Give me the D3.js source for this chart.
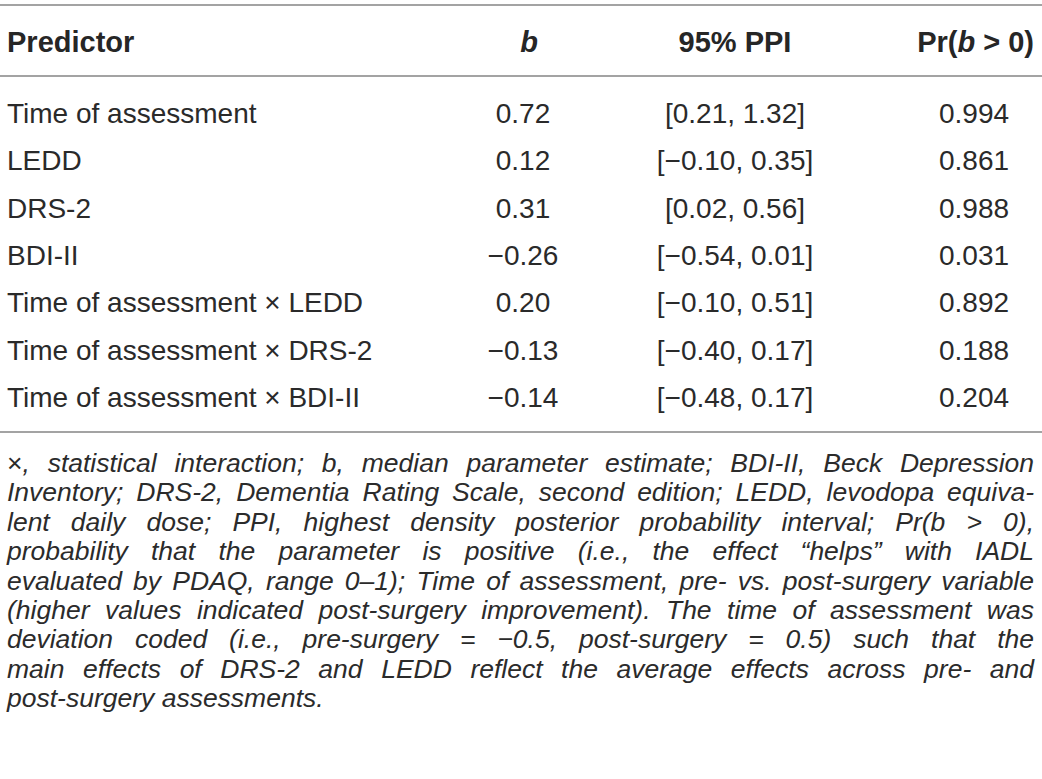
<!DOCTYPE html>
<html>
<head>
<meta charset="utf-8">
<script src="https://cdn.jsdelivr.net/npm/d3@7"></script>
<style>
  body { margin: 0; background: #fff; }
  svg { display: block; font-family: "Liberation Sans", Arial, Helvetica, sans-serif; }
  .cell { font-size: 28px; fill: #2a2a2a; }
  .head { font-size: 29px; font-weight: bold; fill: #262626; }
  .note { font-size: 26.5px; font-style: italic; fill: #2b2b2b; }
  .rule { stroke: #a3a3a3; stroke-width: 2; }
</style>
</head>
<body>
<svg width="1042" height="779"></svg>
<script>
// **** Table data ****

var predictors = [
    'Time of assessment',
    'LEDD',
    'DRS-2',
    'BDI-II',
    'Time of assessment \u00d7 LEDD',
    'Time of assessment \u00d7 DRS-2',
    'Time of assessment \u00d7 BDI-II'
];

var estimates = ['0.72', '0.12', '0.31', '\u22120.26', '0.20', '\u22120.13', '\u22120.14'];

var intervals = [
    '[0.21, 1.32]',
    '[\u22120.10, 0.35]',
    '[0.02, 0.56]',
    '[\u22120.54, 0.01]',
    '[\u22120.10, 0.51]',
    '[\u22120.40, 0.17]',
    '[\u22120.48, 0.17]'
];

var probabilities = ['0.994', '0.861', '0.988', '0.031', '0.892', '0.188', '0.204'];

var noteLines = [
    '\u00d7, statistical interaction; b, median parameter estimate; BDI-II, Beck Depression',
    'Inventory; DRS-2, Dementia Rating Scale, second edition; LEDD, levodopa equiva-',
    'lent daily dose; PPI, highest density posterior probability interval; Pr(b > 0),',
    'probability that the parameter is positive (i.e., the effect \u201chelps\u201d with IADL',
    'evaluated by PDAQ, range 0\u20131); Time of assessment, pre- vs. post-surgery variable',
    '(higher values indicated post-surgery improvement). The time of assessment was',
    'deviation coded (i.e., pre-surgery = \u22120.5, post-surgery = 0.5) such that the',
    'main effects of DRS-2 and LEDD reflect the average effects across pre- and',
    'post-surgery assessments.'
];

// **** Scales ****

var svg = d3.select('svg');

var rowScale = d3.scaleLinear()
    .domain([0, predictors.length - 1]).range([123, 407]);

var noteScale = d3.scaleLinear()
    .domain([0, noteLines.length - 1]).range([472, 707]);

var colScale = d3.scaleOrdinal()
    .domain(['predictor', 'b', 'ppi', 'pr'])
    .range([7, 523, 735, 974]);

var left = 7, right = 1034;

// **** Rules ****

svg.selectAll('line.rule')
    .data([5, 76, 432])
    .enter()
    .append('line')
    .attr('class', 'rule')
    .attr('x1', 0)
    .attr('x2', 1042)
    .attr('y1', function(d) { return d; })
    .attr('y2', function(d) { return d; });

// **** Header ****

var head = svg.append('g').attr('class', 'head');

head.append('text')
    .attr('x', colScale('predictor')).attr('y', 52)
    .text('Predictor');

head.append('text')
    .attr('x', colScale('b') + 6).attr('y', 52)
    .attr('text-anchor', 'middle')
    .style('font-style', 'italic')
    .text('b');

head.append('text')
    .attr('x', colScale('ppi')).attr('y', 52)
    .attr('text-anchor', 'middle')
    .text('95% PPI');

var prHead = head.append('text')
    .attr('x', right).attr('y', 52)
    .attr('text-anchor', 'end');
prHead.append('tspan').text('Pr(');
prHead.append('tspan').style('font-style', 'italic').text('b');
prHead.append('tspan').text(' > 0)');

// **** Body rows ****

var rows = svg.selectAll('g.row')
    .data(predictors)
    .enter()
    .append('g')
    .attr('class', 'row cell')
    .attr('transform', function(d, i) {
        return 'translate(0,' + rowScale(i) + ')';
    });

rows.append('text')
    .attr('x', colScale('predictor'))
    .text(function(d) { return d; });

rows.append('text')
    .attr('x', colScale('b'))
    .attr('text-anchor', 'middle')
    .text(function(d, i) { return estimates[i]; });

rows.append('text')
    .attr('x', colScale('ppi'))
    .attr('text-anchor', 'middle')
    .text(function(d, i) { return intervals[i]; });

rows.append('text')
    .attr('x', colScale('pr'))
    .attr('text-anchor', 'middle')
    .text(function(d, i) { return probabilities[i]; });

// **** Footnote, justified ****

var notes = svg.selectAll('text.note')
    .data(noteLines)
    .enter()
    .append('text')
    .attr('class', 'note')
    .attr('x', left)
    .attr('y', function(d, i) { return noteScale(i); })
    .each(function(d, i) {
        var t = d3.select(this);
        if (i === 0) {
            // the times sign stays upright
            t.append('tspan').style('font-style', 'normal').text(d.slice(0, 1));
            t.append('tspan').text(d.slice(1));
        } else {
            t.text(d);
        }
    });

notes.each(function(d, i) {
    if (i === noteLines.length - 1) return;
    var w = this.getComputedTextLength();
    var gaps = d.split(' ').length - 1;
    d3.select(this).attr('word-spacing', ((right - left - w) / gaps) + 'px');
});
</script>
</body>
</html>
